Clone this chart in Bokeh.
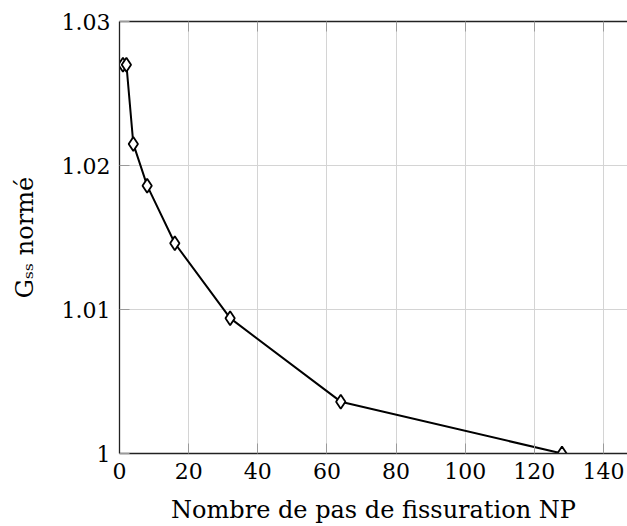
from bokeh.plotting import figure
from bokeh.models import (FixedTicker, CustomJSTickFormatter, LinearAxis,
                          Range1d, ColumnDataSource)
from bokeh.embed import file_html
from bokeh.resources import INLINE

# ---- data ----
np_steps = [1, 2, 4, 8, 16, 32, 64, 128]
gss_norm = [1.0270, 1.0270, 1.0215, 1.0186, 1.0146, 1.0094, 1.0036, 1.0000]
x_ticks = [0, 20, 40, 60, 80, 100, 120, 140]
y_ticks = [1.0, 1.01, 1.02, 1.03]
x_title = "Nombre de pas de fissuration NP"
y_title = "G\u209b\u209b normé"

FONT = "DejaVu Serif"
TICK_FS = "22px"
TITLE_FS = "24px"

p = figure(frame_width=508, frame_height=432,
           x_range=Range1d(0, 146.95), y_range=Range1d(1.0, 1.03),
           output_backend="svg", toolbar_location=None,
           min_border_left=119, min_border_right=0,
           min_border_top=21, min_border_bottom=73)
p.outline_line_color = None
p.background_fill_color = "white"

# grid
p.xgrid.ticker = FixedTicker(ticks=x_ticks)
p.ygrid.ticker = FixedTicker(ticks=y_ticks)
for g in (p.xgrid, p.ygrid):
    g.grid_line_color = "#d4d4d4"
    g.grid_line_width = 1

def style_axis(ax, show_labels=True):
    ax.axis_line_color = "#222222"
    ax.axis_line_width = 1.3
    ax.major_tick_in = 10
    ax.major_tick_out = 0
    ax.major_tick_line_color = "#9a9a9a"
    ax.major_tick_line_width = 1
    ax.minor_tick_line_color = None
    ax.major_label_text_font = FONT
    ax.major_label_text_font_size = TICK_FS
    ax.major_label_text_color = "black"
    ax.axis_label_text_font = FONT
    ax.axis_label_text_font_size = TITLE_FS
    ax.axis_label_text_font_style = "normal"
    ax.axis_label_text_color = "black"
    if not show_labels:
        ax.major_label_text_font_size = "0px"
        ax.major_label_text_alpha = 0

xa = p.xaxis[0]
xa.ticker = FixedTicker(ticks=x_ticks)
style_axis(xa)
xa.major_label_standoff = 9
xa.axis_label = x_title
xa.axis_label_standoff = 14

ya = p.yaxis[0]
ya.ticker = FixedTicker(ticks=y_ticks)
ya.formatter = CustomJSTickFormatter(code="return Math.abs(tick-1)<1e-9 ? '1' : tick.toFixed(2);")
style_axis(ya)
ya.major_label_standoff = 9
ya.axis_label = y_title
ya.axis_label_standoff = 20

top = LinearAxis(ticker=FixedTicker(ticks=x_ticks))
style_axis(top, show_labels=False)
top.major_label_standoff = 0
p.add_layout(top, "above")

# data
src = ColumnDataSource(dict(x=np_steps, y=gss_norm))
p.line("x", "y", source=src, line_color="black", line_width=2)
p.scatter("x", "y", source=src, marker="diamond", size=14,
          line_color="black", line_width=1.8, fill_color="white")

open("out.html", "w").write(file_html(p, INLINE))
